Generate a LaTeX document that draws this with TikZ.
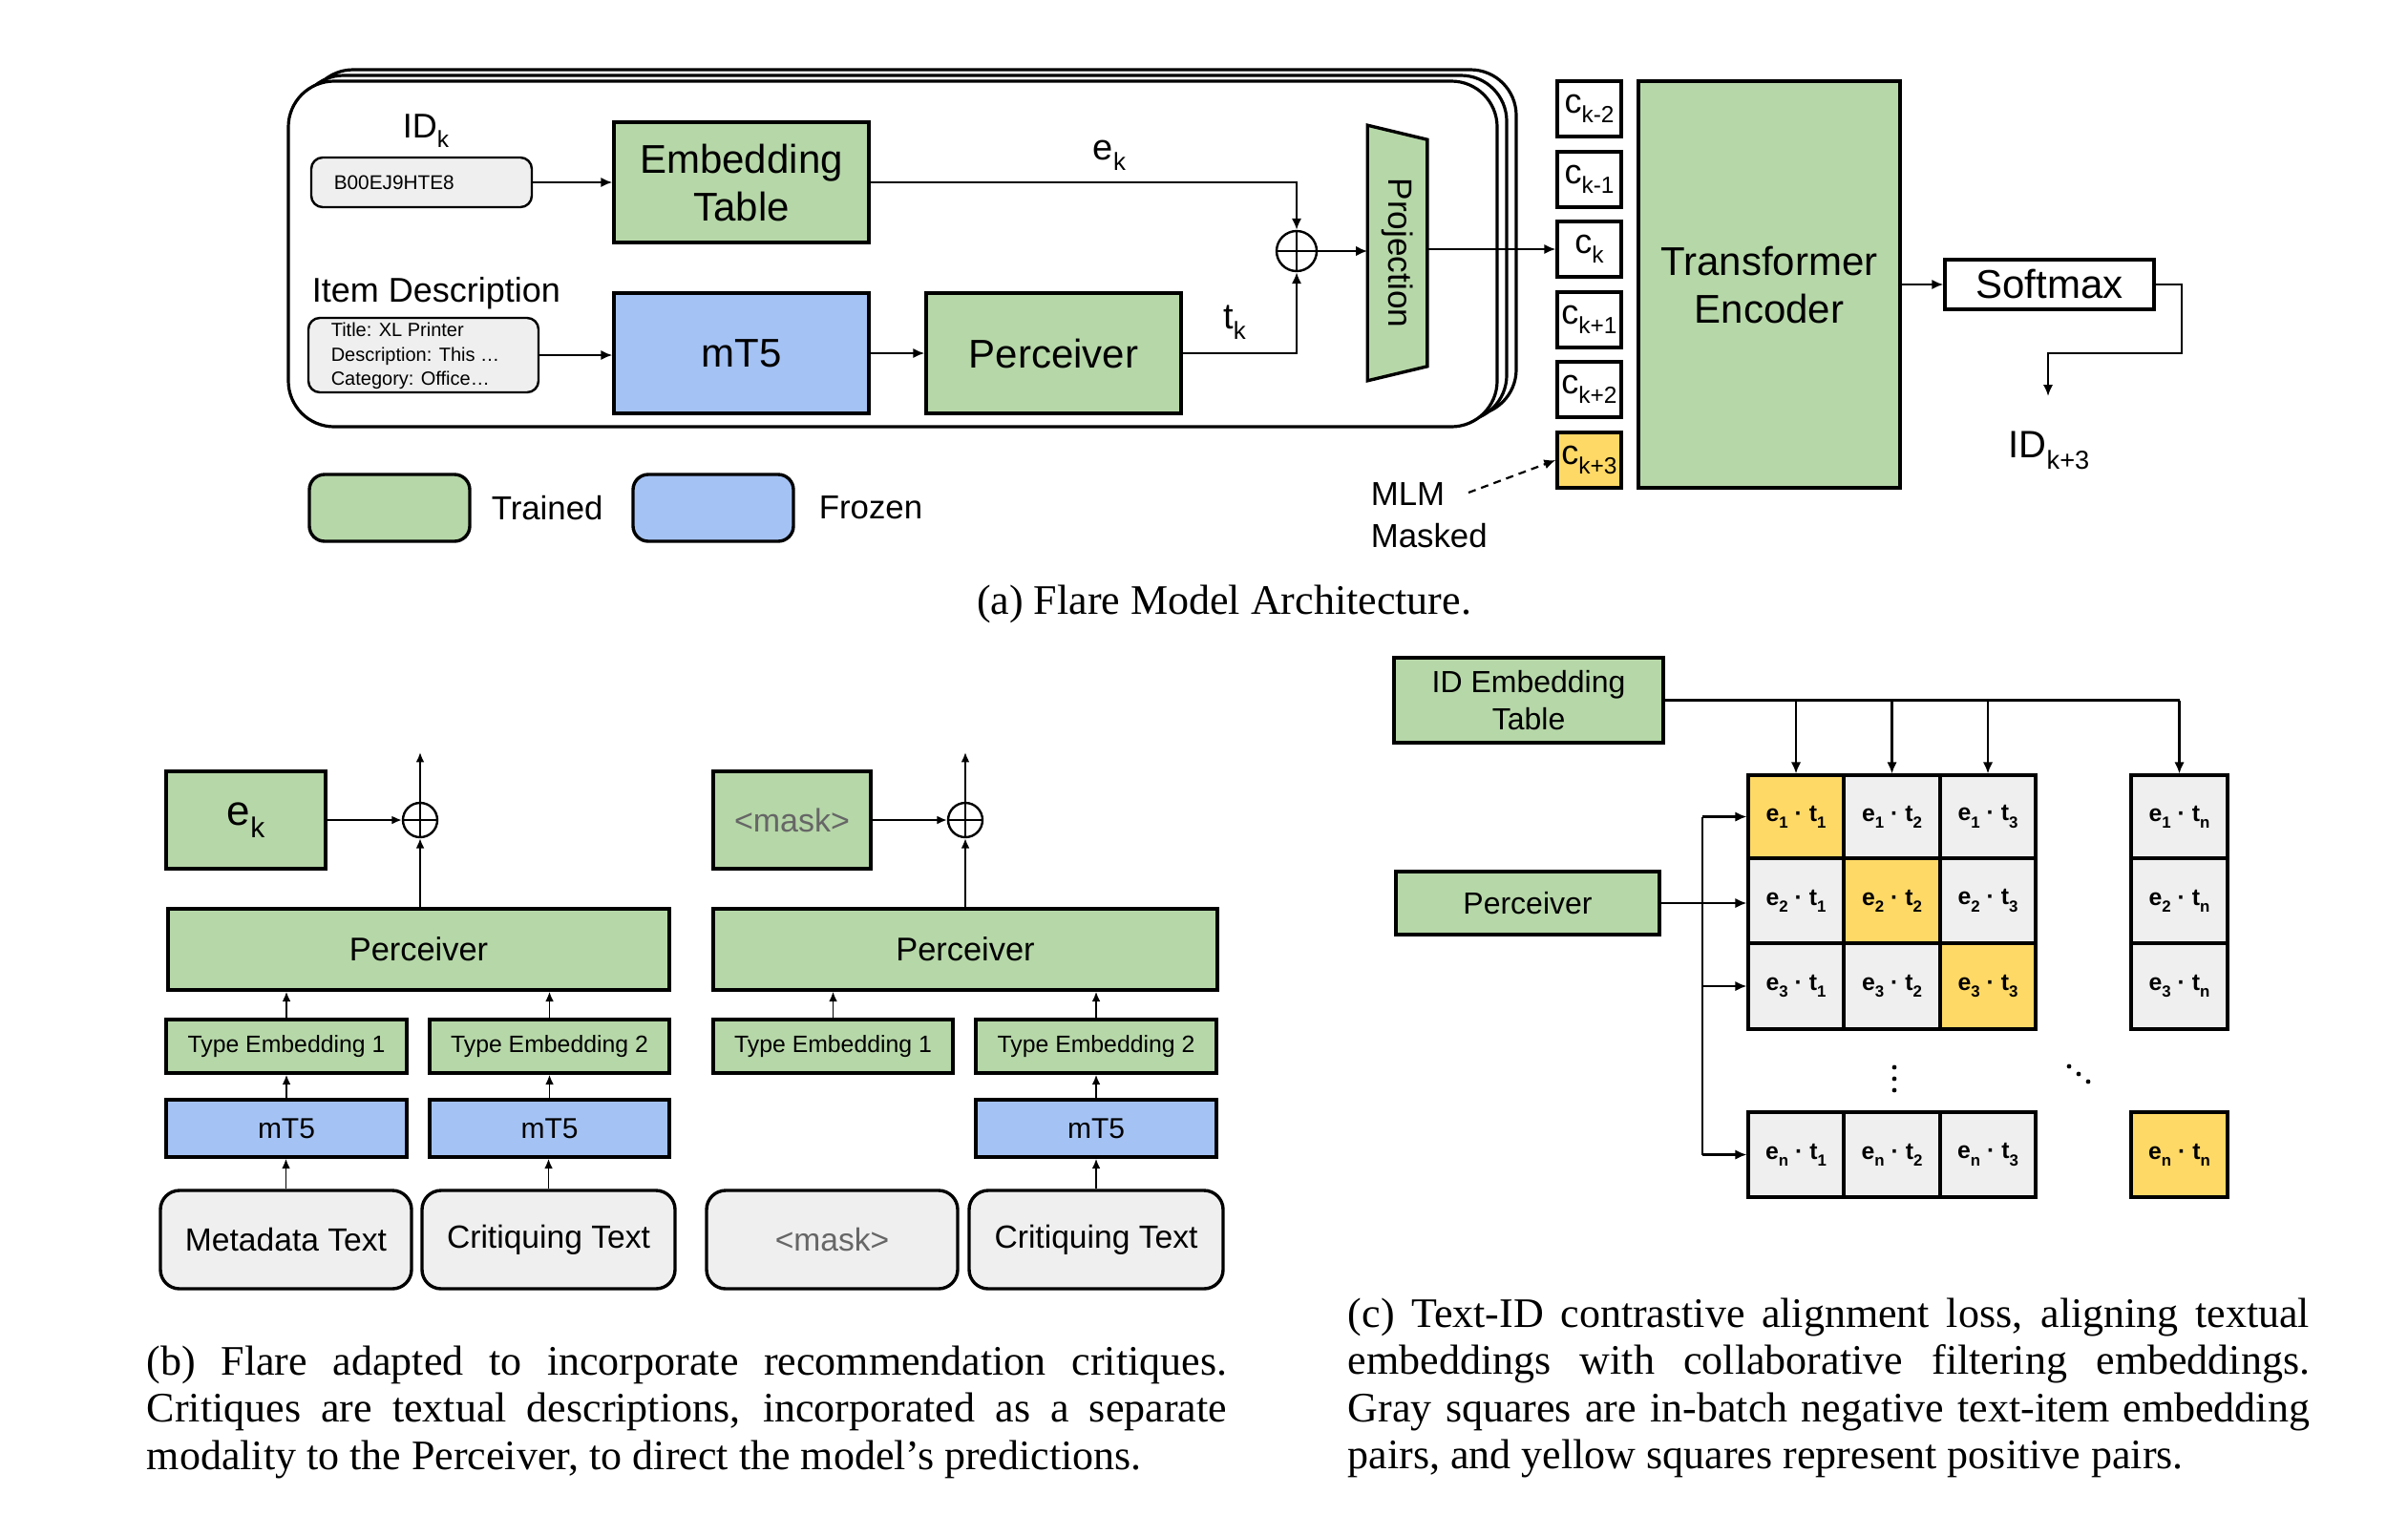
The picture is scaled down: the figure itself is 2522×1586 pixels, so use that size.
\documentclass[tikz,border=0pt]{standalone}
\usepackage{fontspec}
\setmainfont{Liberation Sans}
\newfontfamily\capfont{Liberation Serif}
\usepackage{graphicx}
\usetikzlibrary{arrows.meta,fit,calc}
\definecolor{gr}{HTML}{B6D7A8}
\definecolor{bl}{HTML}{A4C2F4}
\definecolor{lg}{HTML}{EFEFEF}
\definecolor{yl}{HTML}{FFD966}
\definecolor{mk}{HTML}{666666}
\newcommand\dn[1]{\raisebox{-0.55ex}{\scalebox{0.68}{#1}}}
\newcommand\fs[2]{\fontsize{#1}{#2}\selectfont}
\begin{document}
\begin{tikzpicture}[x=0.25pt,y=-0.25pt,
  bx/.style={draw, line width=0.85pt, inner sep=0pt},
  cellbox/.style={draw, line width=0.8pt, inner sep=0pt},
  tx/.style={inner sep=0pt, align=center},
  arr/.style={-{Latex[length=3pt,width=2.6pt]}, line width=0.55pt},
  sarr/.style={-{Latex[length=2.6pt,width=2.2pt]}, line width=0.45pt},
  frame/.style={draw, line width=0.8pt, fill=white, rounded corners=12pt},
  oplus/.style={draw, circle, inner sep=0pt, minimum size=#1, line width=0.6pt, fill=white,
    path picture={\draw[line width=0.5pt] (path picture bounding box.north) -- (path picture bounding box.south)
      (path picture bounding box.west) -- (path picture bounding box.east);}},
  lbl/.style={inner sep=0pt}]
\useasboundingbox (0,0) rectangle (2522,1586);

% ---------------- (a) ----------------
\draw[frame] (322,73) rectangle (1588,435);
\draw[frame] (312,79) rectangle (1578,441);
\draw[frame] (302,85) rectangle (1568,447);

\node[lbl, font=\fs{9pt}{11pt}] (idk) at (446,137) {ID\dn{k}};
\node[bx, fill=lg, rounded corners=3pt, line width=0.6pt, fit={(326,165)(557,217)}] (idbox) {};
\node[lbl, anchor=west, font=\fs{5.2pt}{6.3pt}] (idtxt) at (349,191) {B00EJ9HTE8};
\node[lbl, anchor=west, font=\fs{9pt}{11pt}] (itemlbl) at (326,307) {Item Description};
\node[bx, fill=lg, rounded corners=3pt, line width=0.6pt, fit={(323,333)(564,411)}] (descbox) {};
\node[lbl, anchor=west, align=left, font=\fs{5pt}{6.3pt}] (desctxt) at (346,373) {Title: XL Printer\\Description: This …\\Category: Office…};

\node[bx, fill=gr, fit={(643,128)(910,254)}] (emb) {};
\node[tx, font=\fs{10.5pt}{12.5pt}] (embT) at (emb) {Embedding\\Table};
\node[bx, fill=bl, fit={(643,307)(910,433)}] (mt5) {};
\node[tx, font=\fs{10.5pt}{12.5pt}] (mt5T) at (mt5) {mT5};
\node[bx, fill=gr, fit={(970,307)(1237,433)}] (perc) {};
\node[tx, font=\fs{10.5pt}{12.5pt}] (percT) at (perc) {Perceiver};
\node[oplus=10.5pt] (plus) at (1358,263) {};
\node[lbl, font=\fs{9.5pt}{11pt}] (eklbl) at (1162,163) {e\dn{k}};
\node[lbl, font=\fs{9.5pt}{11pt}] (tklbl) at (1293,338) {t\dn{k}};

\node[inner sep=0pt, fit={(1433,132)(1494,398)}] (proj) {};
\draw[line width=0.85pt, fill=gr] (proj.north west) -- ($(proj.north east)+(0,15)$) -- ($(proj.south east)+(0,-15)$) -- (proj.south west) -- cycle;
\node[lbl, rotate=-90, font=\fs{8.8pt}{10pt}] (projtxt) at (proj.center) {Projection};

\foreach \n/\ya/\yb/\s/\f in {1/85/143/k-2/white, 2/159/217/k-1/white, 3/232/290/k/white,
    4/306/364/k+1/white, 5/379/437/k+2/white, 6/453/511/k+3/yl}{
  \node[bx, fill=\f, fit={(1631,\ya)(1698,\yb)}] (c\n) {};
  \node[tx, font=\fs{9pt}{10pt}] (c\n T) at (c\n) {c\dn{\s}};
}

\node[bx, fill=gr, fit={(1716,85)(1990,511)}] (trans) {};
\node[tx, font=\fs{10.5pt}{12.5pt}] (transT) at (trans) {Transformer\\Encoder};
\node[bx, fit={(2037,272)(2256,324)}] (soft) {};
\node[tx, font=\fs{10.5pt}{12.5pt}] (softT) at (soft) {Softmax};
\node[lbl, font=\fs{10pt}{11pt}] (idk3) at (2146,472) {ID\dn{k+3}};
\coordinate (sm1) at (2285,370);
\coordinate (idin) at (2145,415);

\node[lbl, anchor=west, align=left, font=\fs{8.7pt}{11pt}] (mlm) at (1435,540) {MLM\\Masked};
\coordinate (mlmtail) at (1538,516);

\node[bx, fill=gr, rounded corners=4pt, fit={(324,497)(492,567)}] (legtr) {};
\node[lbl, anchor=west, font=\fs{8.7pt}{10pt}] (legtrtxt) at (514,532) {Trained};
\node[bx, fill=bl, rounded corners=4pt, fit={(663,497)(831,567)}] (legfr) {};
\node[lbl, anchor=west, font=\fs{8.7pt}{10pt}] (legfrtxt) at (857,532) {Frozen};

\node[lbl, anchor=base, font=\capfont\fs{11pt}{12pt}] (capa) at (1282,643) {(a) Flare Model Architecture.};

\draw[arr] (idbox.east) -- (emb.west);
\draw[arr] (descbox.east) -- (descbox.east -| mt5.west);
\draw[arr] (mt5) -- (perc);
\draw[arr] (emb.east) -| (plus.north);
\draw[arr] (perc.east) -| (plus.south);
\draw[arr] (plus.east) -- (plus.east -| proj.west);
\draw[arr] (proj.east |- c3) -- (c3.west);
\draw[arr] (trans.east |- soft) -- (soft.west);
\draw[arr] (soft.east) -| (sm1) -| (idin);
\draw[arr, dash pattern=on 2pt off 1.5pt] (mlmtail) -- (c6.west);

% ---------------- (b) ----------------
\node[bx, fill=gr, fit={(174,808)(341,910)}] (ekb) {};
\node[tx, font=\fs{11pt}{12pt}] (ekbT) at (ekb) {e\dn{k}};
\node[oplus=9pt] (p1) at (440,859) {};
\coordinate (up1) at (440,788);
\node[bx, fill=gr, fit={(176,952)(701,1037)}] (pc1) {};
\node[tx, font=\fs{8.6pt}{10pt}] (pc1T) at (pc1) {Perceiver};
\node[bx, fill=gr, fit={(174,1068)(426,1124)}] (te11) {};
\node[tx, font=\fs{6.2pt}{7pt}] (te11T) at (te11) {Type Embedding 1};
\node[bx, fill=gr, fit={(450,1068)(701,1124)}] (te12) {};
\node[tx, font=\fs{6.2pt}{7pt}] (te12T) at (te12) {Type Embedding 2};
\node[bx, fill=bl, fit={(174,1152)(426,1212)}] (mt11) {};
\node[tx, font=\fs{7.5pt}{9pt}] (mt11T) at (mt11) {mT5};
\node[bx, fill=bl, fit={(450,1152)(701,1212)}] (mt12) {};
\node[tx, font=\fs{7.5pt}{9pt}] (mt12T) at (mt12) {mT5};
\node[bx, fill=lg, rounded corners=5pt, fit={(168,1247)(431,1350)}] (md1) {};
\node[tx, font=\fs{8.4pt}{10pt}] (md1T) at (md1) {Metadata Text};
\node[bx, fill=lg, rounded corners=5pt, fit={(442,1247)(707,1350)}] (cr1) {};
\node[tx, font=\fs{8.4pt}{10pt}] (cr1T) at (cr1) {Critiquing Text};

\node[bx, fill=gr, fit={(747,808)(912,910)}] (mkb) {};
\node[tx, font=\fs{8.5pt}{10pt}, text=mk] (mkbT) at (mkb) {\textless mask\textgreater};
\node[oplus=9pt] (p2) at (1011,859) {};
\coordinate (up2) at (1011,788);
\node[bx, fill=gr, fit={(747,952)(1275,1037)}] (pc2) {};
\node[tx, font=\fs{8.6pt}{10pt}] (pc2T) at (pc2) {Perceiver};
\node[bx, fill=gr, fit={(747,1068)(998,1124)}] (te21) {};
\node[tx, font=\fs{6.2pt}{7pt}] (te21T) at (te21) {Type Embedding 1};
\node[bx, fill=gr, fit={(1022,1068)(1274,1124)}] (te22) {};
\node[tx, font=\fs{6.2pt}{7pt}] (te22T) at (te22) {Type Embedding 2};
\node[bx, fill=bl, fit={(1022,1152)(1274,1212)}] (mt22) {};
\node[tx, font=\fs{7.5pt}{9pt}] (mt22T) at (mt22) {mT5};
\node[bx, fill=lg, rounded corners=5pt, fit={(740,1247)(1003,1350)}] (mk2) {};
\node[tx, font=\fs{8.4pt}{10pt}, text=mk] (mk2T) at (mk2) {\textless mask\textgreater};
\node[bx, fill=lg, rounded corners=5pt, fit={(1015,1247)(1281,1350)}] (cr2) {};
\node[tx, font=\fs{8.4pt}{10pt}] (cr2T) at (cr2) {Critiquing Text};

\draw[sarr] (ekb.east) -- (p1.west);
\draw[sarr] (pc1.north -| p1) -- (p1.south);
\draw[sarr] (p1.north) -- (up1);
\draw[sarr] (te11.north) -- (te11.north |- pc1.south);
\draw[sarr] (te12.north) -- (te12.north |- pc1.south);
\draw[sarr] (mt11.north) -- (te11.south);
\draw[sarr] (mt12.north) -- (te12.south);
\draw[sarr] (md1.north) -- (md1.north |- mt11.south);
\draw[sarr] (cr1.north) -- (cr1.north |- mt12.south);

\draw[sarr] (mkb.east) -- (p2.west);
\draw[sarr] (pc2.north -| p2) -- (p2.south);
\draw[sarr] (p2.north) -- (up2);
\draw[sarr] (te21.north) -- (te21.north |- pc2.south);
\draw[sarr] (te22.north) -- (te22.north |- pc2.south);
\draw[sarr] (mt22.north) -- (te22.south);
\draw[sarr] (cr2.north) -- (cr2.north |- mt22.south);

\node[lbl, anchor=base west, font=\capfont\fs{11pt}{12.4pt}] (capb) at (153,1440) {\parbox[t]{282.8pt}{\hyphenpenalty=10000
(b) Flare adapted to incorporate recommendation critiques.\linebreak
Critiques are textual descriptions, incorporated as a separate\linebreak
modality to the Perceiver, to direct the model’s predictions.}};

% ---------------- (c) ----------------
\node[bx, fill=gr, fit={(1460,689)(1742,778)}] (idemb) {};
\node[tx, font=\fs{8pt}{9.6pt}] (idembT) at (idemb) {ID Embedding\\Table};
\node[bx, fill=gr, fit={(1462,913)(1738,979)}] (pc3) {};
\node[tx, font=\fs{8pt}{9.6pt}] (pc3T) at (pc3) {Perceiver};

\foreach \i/\ya/\yb in {1/812/899,2/899/988,3/988/1078,n/1165/1254}
  \foreach \j/\xa/\xb in {1/1831/1931,2/1931/2032,3/2032/2132,n/2232/2333}{
    \ifx\i\j\def\cf{yl}\else\def\cf{lg}\fi
    \node[cellbox, fill=\cf, fit={(\xa,\ya)(\xb,\yb)}] (m\i\j) {};
    \node[tx, font=\bfseries\fs{6.2pt}{7pt}] (m\i\j T) at (m\i\j) {e\dn{\i} · t\dn{\j}};
  }

\coordinate (bus) at (1783,0);
\draw[line width=0.55pt] (idemb.east) -- (idemb.east -| m1n.north);
\foreach \c in {11,12,13,1n} \draw[arr] (idemb.east -| m\c.north) -- (m\c.north);
\draw[arr] (pc3.east) -- (pc3.east -| m21.west);
\draw[line width=0.55pt] (bus |- m11.west) -- (bus |- mn1.west);
\foreach \r in {11,31,n1} \draw[arr] (bus |- m\r.west) -- (m\r.west);

\fill (1984,1118) circle (0.6pt) (1984,1130) circle (0.6pt) (1984,1142) circle (0.6pt);
\fill (2167,1117) circle (0.6pt) (2177,1125) circle (0.6pt) (2187,1133) circle (0.6pt);

\node[lbl, anchor=base west, font=\capfont\fs{11pt}{12.4pt}] (capc) at (1411,1390) {\parbox[t]{251.8pt}{\hyphenpenalty=10000
(c) Text-ID contrastive alignment loss, aligning textual\linebreak
embeddings with collaborative filtering embeddings.\linebreak
Gray squares are in-batch negative text-item embedding\linebreak
pairs, and yellow squares represent positive pairs.}};
\end{tikzpicture}
\end{document}
